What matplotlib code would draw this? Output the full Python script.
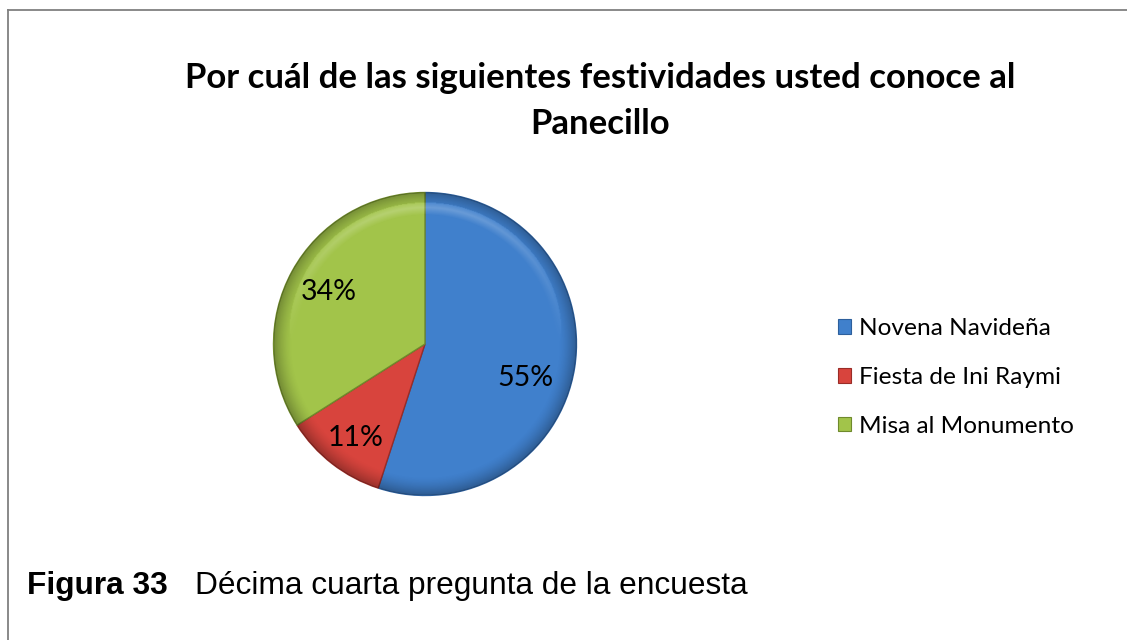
import numpy as np
import matplotlib
matplotlib.use("Agg")
import matplotlib.pyplot as plt
from matplotlib.patches import Patch, Circle
from matplotlib.lines import Line2D

# data
categories = ["Novena Navideña", "Fiesta de Ini Raymi", "Misa al Monumento"]
values = [55, 11, 34]
colors = ["#4080cc", "#d8443d", "#a2c44a"]
edge_colors = ["#2d5f9c", "#9a2c27", "#6f8a2c"]

title = "Por cuál de las siguientes festividades usted conoce al\nPanecillo"
caption_bold = "Figura 33"
caption_text = "Décima cuarta pregunta de la encuesta"

W, H = 1127, 640
fig = plt.figure(figsize=(W / 100, H / 100), dpi=100)

# frame lines (left and top)
fig.add_artist(Line2D([7.5 / W, 7.5 / W], [0, 1 - 10 / H], color="#808080", lw=1.3))
fig.add_artist(Line2D([7.5 / W, 1], [1 - 10 / H, 1 - 10 / H], color="#808080", lw=1.3))

# pie axes, centre (425, 344) px, radius 152 px
cx, cy, R = 425, 344, 153
ax = fig.add_axes([(cx - R) / W, 1 - (cy + R) / H, 2 * R / W, 2 * R / H])
wedges, texts, autotexts = ax.pie(
    values, colors=colors, startangle=90, counterclock=False, radius=1,
    autopct="%1.0f%%", pctdistance=0.72,
    wedgeprops=dict(linewidth=1.0),
    textprops=dict(fontsize=20.5, family="Lato", color="black"),
)
for w, ec in zip(wedges, edge_colors):
    w.set_edgecolor(ec)

# nudge labels toward where the original puts them
label_angles = [-18.5, -126.5, 151.8]
label_r = [0.70, 0.77, 0.72]
for t, a, r in zip(autotexts, label_angles, label_r):
    t.set_position((r * np.cos(np.radians(a)), r * np.sin(np.radians(a))))

# bevel-like shading over the pie
n = 400
yy, xx = np.mgrid[1:-1:n * 1j, -1:1:n * 1j]
rr = np.hypot(xx, yy)
shade = np.zeros((n, n, 4))
dark = np.clip((rr - 0.88) / 0.12, 0, 1) ** 1.5 * 0.28
light = np.clip(1 - np.abs(rr - 0.9) / 0.05, 0, 1) * np.clip(yy, 0, 1) * 0.25
shade[..., :3] = np.where(light[..., None] > dark[..., None], 1.0, 0.0)
shade[..., 3] = np.maximum(dark, light)
im = ax.imshow(shade, extent=[-1, 1, -1, 1], zorder=3, interpolation="bilinear")
clip = Circle((0, 0), 1, transform=ax.transData)
im.set_clip_path(clip)
for t in autotexts:
    t.set_zorder(5)

ax.set_xlim(-1.01, 1.01)
ax.set_ylim(-1.01, 1.01)
ax.set_aspect("equal")
ax.axis("off")

# title
fig.text(600 / W, 1 - 101 / H, title, ha="center", va="center", fontsize=25,
         fontweight="bold", family="Lato", linespacing=1.5)

# legend
handles = [Patch(facecolor=c, edgecolor=ec, linewidth=0.8) for c, ec in zip(colors, edge_colors)]
fig.legend(handles, categories, loc="upper left", bbox_to_anchor=(816 / W, 1 - 296 / H),
           frameon=False, prop=dict(family="Lato", size=17.6),
           handlelength=0.55, handleheight=0.55, handletextpad=0.3, labelspacing=1.14)

# caption
fig.text(27 / W, 1 - 586 / H, caption_bold, ha="left", va="center", fontsize=22.8,
         fontweight="bold", family="Liberation Sans")
fig.text(195 / W, 1 - 586 / H, caption_text, ha="left", va="center", fontsize=22.8,
         family="Liberation Sans")

fig.savefig("out.png", dpi=100)
